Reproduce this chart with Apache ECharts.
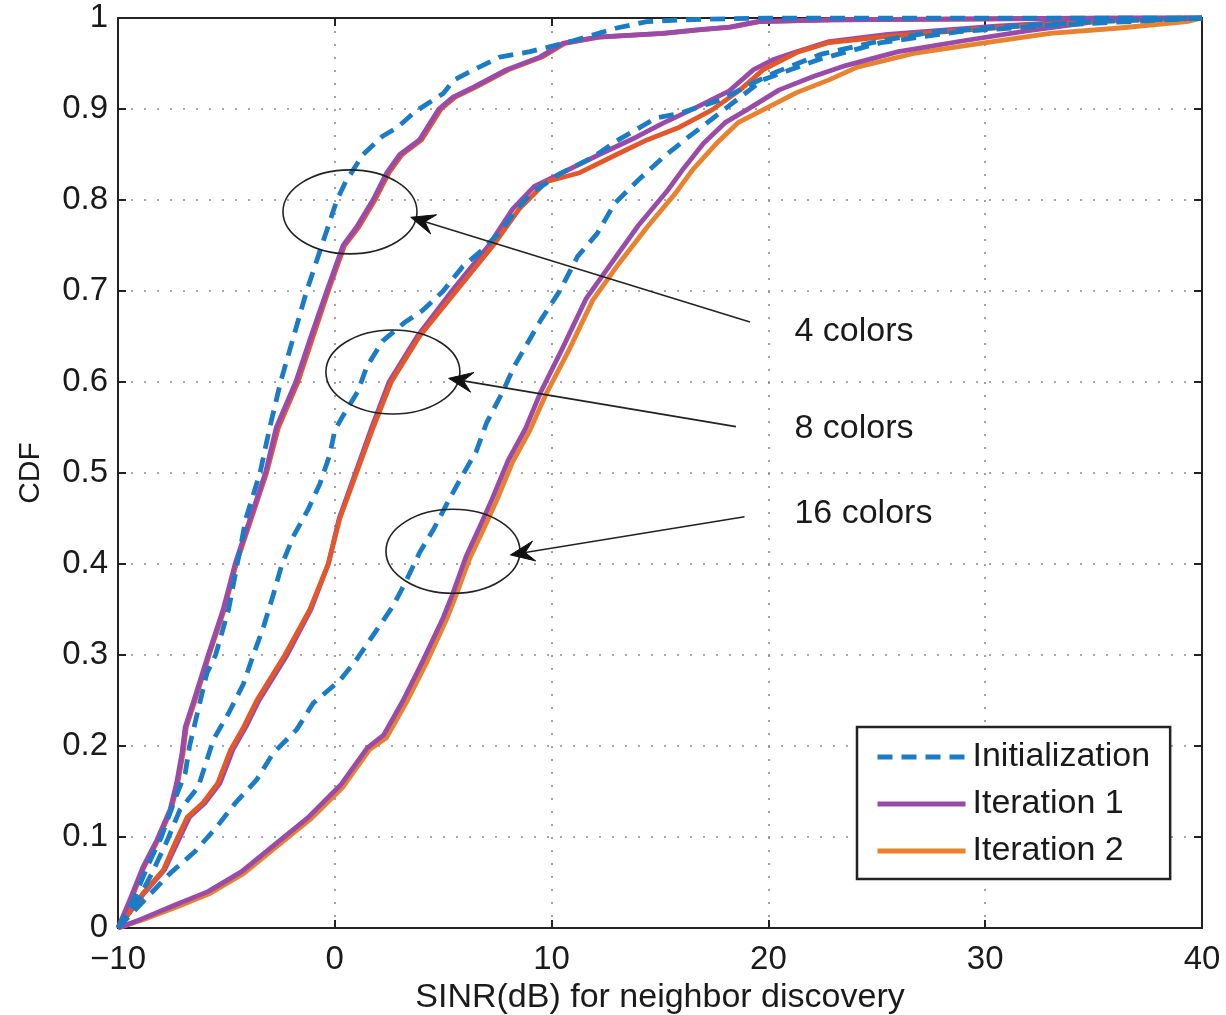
<!DOCTYPE html>
<html>
<head>
<meta charset="utf-8">
<script src="https://cdn.jsdelivr.net/npm/echarts@6/dist/echarts.min.js"></script>
<style>
html,body{margin:0;padding:0;background:#fff;}
#chart{width:1226px;height:1015px;}
</style>
</head>
<body>
<div id="chart"></div>
<script>
// ---- data (SINR dB, CDF) ----
const xTicks = [-10, 0, 10, 20, 30, 40];
const yTicks = [0, 0.1, 0.2, 0.3, 0.4, 0.5, 0.6, 0.7, 0.8, 0.9, 1];

const c4Init = [[-10,0],[-9.3,0.03],[-8.6,0.07],[-8.0,0.1],[-7.4,0.14],[-6.9,0.17],[-6.7,0.2],[-6.3,0.24],[-5.9,0.28],[-5.5,0.3],[-4.9,0.35],[-4.5,0.4],[-4.1,0.45],[-3.45,0.5],[-3.0,0.55],[-2.5,0.6],[-1.9,0.65],[-1.3,0.7],[-0.6,0.75],[0.1,0.8],[0.5,0.82],[1.3,0.85],[2.2,0.87],[2.9,0.88],[3.7,0.897],[5.0,0.917],[5.5,0.932],[6.4,0.943],[7.6,0.957],[9.0,0.963],[11.0,0.975],[13.0,0.989],[14.4,0.996],[16.0,0.998],[20.0,1],[40,1]];
const c4It1 = [[-10,0],[-9.45,0.031],[-8.85,0.067],[-8.2,0.097],[-7.6,0.13],[-7.3,0.159],[-7.05,0.192],[-6.9,0.221],[-6.5,0.25],[-5.84,0.3],[-5.15,0.35],[-4.6,0.4],[-3.9,0.45],[-3.2,0.5],[-2.7,0.55],[-1.8,0.6],[-1.1,0.65],[-0.37,0.7],[0.38,0.75],[1.0,0.77],[1.76,0.8],[2.4,0.83],[3.0,0.85],[3.9,0.866],[4.8,0.9],[5.45,0.913],[6.4,0.924],[7.9,0.943],[9.45,0.957],[10.5,0.972],[12.1,0.979],[15.1,0.983],[16.7,0.987],[18.2,0.99],[19.5,0.996],[22.8,0.998],[36,1],[40,1]];
const c4It2 = [[-10,0],[-9.4,0.031],[-8.8,0.067],[-8.15,0.097],[-7.55,0.13],[-7.25,0.159],[-7.0,0.192],[-6.85,0.221],[-6.45,0.25],[-5.8,0.3],[-5.1,0.35],[-4.55,0.4],[-3.85,0.45],[-3.15,0.5],[-2.6,0.55],[-1.7,0.6],[-1.0,0.65],[-0.3,0.7],[0.45,0.75],[1.1,0.77],[1.85,0.8],[2.5,0.83],[3.1,0.85],[4.0,0.866],[4.9,0.9],[5.55,0.913],[6.5,0.924],[8.0,0.943],[9.55,0.957],[10.6,0.972],[12.2,0.979],[15.2,0.983],[16.8,0.987],[18.3,0.99],[19.6,0.996],[23.0,0.998],[36,1],[40,1]];

const c8Init = [[-10,0],[-9.0,0.034],[-8.4,0.062],[-7.75,0.095],[-7.14,0.13],[-6.3,0.155],[-6.0,0.177],[-5.6,0.207],[-4.9,0.236],[-4.22,0.268],[-3.76,0.3],[-3.3,0.33],[-2.84,0.366],[-2.46,0.398],[-1.92,0.43],[-1.23,0.46],[-0.69,0.488],[-0.23,0.52],[0.0,0.547],[0.38,0.563],[1.07,0.59],[1.48,0.617],[2.2,0.645],[3.2,0.665],[4.07,0.679],[5.0,0.7],[5.9,0.727],[6.7,0.743],[7.6,0.764],[8.4,0.79],[9.1,0.808],[10.4,0.829],[11.9,0.847],[13.0,0.865],[13.8,0.876],[14.8,0.89],[15.9,0.895],[16.5,0.9],[17.8,0.91],[19.0,0.925],[20.3,0.94],[22.4,0.96],[25.2,0.975],[27.7,0.985],[30.9,0.99],[35,0.996],[40,1]];
const c8It1 = [[-10,0],[-8.8,0.038],[-7.85,0.064],[-7.2,0.097],[-6.7,0.122],[-6.0,0.137],[-5.3,0.159],[-4.7,0.196],[-4.1,0.221],[-3.5,0.25],[-2.2,0.3],[-1.1,0.35],[-0.3,0.4],[0.2,0.45],[0.95,0.5],[1.7,0.55],[2.5,0.6],[3.8,0.65],[5.4,0.7],[7.1,0.75],[8.2,0.79],[9.2,0.815],[10.5,0.83],[12.2,0.85],[13.9,0.869],[15.1,0.884],[16.7,0.902],[18.2,0.92],[19.3,0.943],[20.2,0.954],[21.3,0.963],[22.8,0.974],[25.5,0.982],[30.5,0.991],[35,0.997],[39.3,1],[40,1]];
const c8It2 = [[-10,0],[-8.85,0.038],[-7.9,0.064],[-7.3,0.097],[-6.8,0.122],[-6.1,0.137],[-5.4,0.159],[-4.8,0.196],[-4.2,0.221],[-3.6,0.25],[-2.3,0.3],[-1.15,0.35],[-0.3,0.4],[0.23,0.45],[1.0,0.5],[1.77,0.55],[2.6,0.6],[3.9,0.65],[5.6,0.7],[7.3,0.75],[8.5,0.79],[9.75,0.82],[11.3,0.83],[13.0,0.85],[14.4,0.866],[15.9,0.88],[17.4,0.899],[18.7,0.921],[19.75,0.943],[21.3,0.962],[22.8,0.973],[25.6,0.98],[30.9,0.99],[35,0.996],[39.3,1],[40,1]];

const c16Init = [[-10,0],[-8.8,0.03],[-7.6,0.06],[-6.45,0.084],[-5.45,0.111],[-4.6,0.137],[-3.6,0.163],[-2.85,0.192],[-1.76,0.218],[-1.0,0.247],[0.23,0.272],[1.0,0.295],[1.92,0.327],[2.69,0.354],[3.3,0.382],[3.92,0.413],[4.53,0.437],[5.3,0.472],[5.76,0.492],[6.53,0.524],[7.0,0.555],[7.76,0.59],[8.27,0.617],[9.5,0.668],[10.4,0.701],[11.2,0.738],[12.1,0.763],[12.9,0.796],[14.0,0.822],[15.2,0.848],[16.3,0.869],[17.4,0.889],[18.7,0.913],[19.75,0.932],[21.0,0.943],[22.4,0.955],[25.2,0.973],[28.8,0.985],[33,0.992],[39.3,0.999],[40,1]];
const c16It1 = [[-10,0],[-8.9,0.01],[-7.4,0.025],[-5.85,0.04],[-4.3,0.062],[-2.8,0.091],[-1.25,0.121],[0.3,0.158],[1.5,0.198],[2.25,0.212],[3.15,0.25],[4.05,0.293],[5.0,0.341],[5.45,0.368],[6.05,0.408],[6.65,0.439],[7.25,0.471],[8.0,0.514],[8.8,0.549],[9.5,0.589],[10.5,0.637],[11.6,0.692],[12.8,0.732],[14.0,0.772],[15.3,0.809],[16.1,0.835],[17.0,0.862],[18.0,0.885],[19.0,0.899],[20.5,0.921],[22.1,0.936],[23.6,0.948],[26.0,0.963],[29.0,0.975],[32.0,0.986],[34.5,0.994],[36.2,1],[40,1]];
const c16It2 = [[-10,0],[-8.85,0.009],[-7.3,0.023],[-5.76,0.038],[-4.2,0.06],[-2.7,0.089],[-1.15,0.119],[0.38,0.155],[1.6,0.196],[2.38,0.209],[3.3,0.248],[4.22,0.291],[5.15,0.339],[5.6,0.366],[6.22,0.406],[6.84,0.437],[7.45,0.469],[8.2,0.512],[9.0,0.547],[9.75,0.587],[10.8,0.635],[11.9,0.69],[13.1,0.73],[14.4,0.77],[15.7,0.807],[16.5,0.833],[17.6,0.862],[18.6,0.885],[19.75,0.899],[21.3,0.918],[22.8,0.932],[24.1,0.946],[26.7,0.961],[29.8,0.972],[33,0.983],[36.2,0.989],[39.3,0.996],[40,1]];

// ---- annotation placement (data coordinates) ----
const groupLabels = ['4 colors', '8 colors', '16 colors'];
const ellipseCenters = [[0.7, 0.787], [2.68, 0.611], [5.45, 0.414]];
const arrowTails = [[19.15, 0.666], [18.5, 0.551], [18.9, 0.452]];
const arrowTips = [[3.5, 0.781], [5.25, 0.604], [8.1, 0.41]];
const labelPos = [[21.2, 0.655], [21.2, 0.549], [21.2, 0.455]];

// ---- styles ----
const BLUE = '#1B7CC6', PURPLE = '#9A4BAA', ORANGE = '#E8822F', REDOR = '#E2582A';
const FONT = 'Liberation Sans, Arial, Helvetica, sans-serif';

function mk(name, data, color, dashed, z) {
  return {
    type: 'line', name: name, data: data, showSymbol: false, symbol: 'none',
    smooth: false, z: z, animation: false,
    lineStyle: { color: color, width: 4.8, type: dashed ? [15, 9] : 'solid', cap: 'butt', join: 'round' },
    itemStyle: { color: color }
  };
}

const series = [
  mk('Iteration 2', c16It2, ORANGE, false, 2),
  mk('Iteration 1', c16It1, PURPLE, false, 3),
  mk('Iteration 1', c8It1, PURPLE, false, 2),
  mk('Iteration 2', c8It2, REDOR, false, 3),
  mk('Iteration 2', c4It2, REDOR, false, 2),
  mk('Iteration 1', c4It1, PURPLE, false, 3),
  mk('Initialization', c16Init, BLUE, true, 4),
  mk('Initialization', c8Init, BLUE, true, 4),
  mk('Initialization', c4Init, BLUE, true, 4)
];

const chart = echarts.init(document.getElementById('chart'), null, { renderer: 'canvas' });

const gridSplit = { show: true, lineStyle: { color: '#8a8a8a', width: 1.6, type: [2, 11] } };
const axisLineStyle = { show: true, onZero: false, lineStyle: { color: '#222', width: 2 } };
const tickStyle = { show: true, inside: true, length: 8, lineStyle: { color: '#222', width: 2 } };

chart.setOption({
  animation: false,
  backgroundColor: '#fff',
  grid: { left: 118, right: 24, top: 18, bottom: 87, containLabel: false, outerBoundsMode: 'none' },
  xAxis: [{
    type: 'value', min: xTicks[0], max: xTicks[xTicks.length - 1], interval: 10,
    position: 'bottom',
    axisLine: axisLineStyle, axisTick: tickStyle, splitLine: gridSplit,
    axisLabel: {
      color: '#1a1a1a', fontFamily: FONT, fontSize: 33, margin: 15,
      formatter: v => (v < 0 ? '\u2212' + Math.abs(v) : String(v))
    },
    name: 'SINR(dB) for neighbor discovery', nameLocation: 'middle', nameGap: 52,
    nameTextStyle: { color: '#1a1a1a', fontFamily: FONT, fontSize: 34 }
  }, {
    type: 'value', min: xTicks[0], max: xTicks[xTicks.length - 1], interval: 10,
    position: 'top',
    axisLine: axisLineStyle, axisTick: tickStyle, splitLine: { show: false },
    axisLabel: { show: false }
  }],
  yAxis: [{
    type: 'value', min: yTicks[0], max: yTicks[yTicks.length - 1], interval: 0.1,
    position: 'left',
    axisLine: axisLineStyle, axisTick: tickStyle, splitLine: gridSplit,
    axisLabel: {
      color: '#1a1a1a', fontFamily: FONT, fontSize: 33, margin: 10,
      formatter: v => String(Math.round(v * 10) / 10)
    },
    name: 'CDF', nameLocation: 'middle', nameGap: 72, nameRotate: 90,
    nameTextStyle: { color: '#1a1a1a', fontFamily: FONT, fontSize: 30 }
  }, {
    type: 'value', min: yTicks[0], max: yTicks[yTicks.length - 1], interval: 0.1,
    position: 'right',
    axisLine: axisLineStyle, axisTick: tickStyle, splitLine: { show: false },
    axisLabel: { show: false }
  }],
  legend: {
    orient: 'vertical', left: 857, top: 727,
    data: ['Initialization', 'Iteration 1', 'Iteration 2'],
    itemWidth: 88, itemHeight: 14, itemGap: 13,
    padding: [13, 20, 11, 18],
    borderColor: '#222', borderWidth: 2.5, backgroundColor: '#fff',
    itemStyle: { color: 'rgba(0,0,0,0)', borderWidth: 0, opacity: 0 },
    lineStyle: { width: 5 },
    textStyle: { color: '#1a1a1a', fontFamily: FONT, fontSize: 34, padding: [0, 0, 0, 2] },
    selectedMode: false
  },
  series: series
});

function drawAnnotations() {
  const graphics = [];
  const px = p => chart.convertToPixel({ gridIndex: 0 }, p);
  for (let i = 0; i < groupLabels.length; i++) {
    const c = px(ellipseCenters[i]);
    graphics.push({
      type: 'ellipse', z: 20,
      shape: { cx: c[0], cy: c[1], rx: 67, ry: 42 },
      style: { fill: 'none', stroke: '#222', lineWidth: 1.6 }
    });
    const t = px(arrowTails[i]);
    const h = px(arrowTips[i]);
    const dx = h[0] - t[0], dy = h[1] - t[1];
    const L = Math.sqrt(dx * dx + dy * dy);
    const ux = dx / L, uy = dy / L;
    const nx = -uy, ny = ux;
    const len = 24, hw = 10, notch = 15;
    const bx = h[0] - ux * len, by = h[1] - uy * len;
    const mx = h[0] - ux * notch, my = h[1] - uy * notch;
    graphics.push({
      type: 'line', z: 20,
      shape: { x1: t[0], y1: t[1], x2: mx, y2: my },
      style: { stroke: '#222', lineWidth: 1.6 }
    });
    graphics.push({
      type: 'polygon', z: 21,
      shape: { points: [[h[0], h[1]], [bx + nx * hw, by + ny * hw], [mx, my], [bx - nx * hw, by - ny * hw]] },
      style: { fill: '#111', stroke: '#111', lineWidth: 1 }
    });
    const lp = px(labelPos[i]);
    graphics.push({
      type: 'text', z: 22, x: lp[0], y: lp[1],
      style: {
        text: groupLabels[i], fill: '#1a1a1a', font: '34px ' + FONT,
        textAlign: 'left', textVerticalAlign: 'middle', verticalAlign: 'middle'
      }
    });
  }
  chart.setOption({ graphic: graphics });
}
drawAnnotations();
</script>
</body>
</html>
